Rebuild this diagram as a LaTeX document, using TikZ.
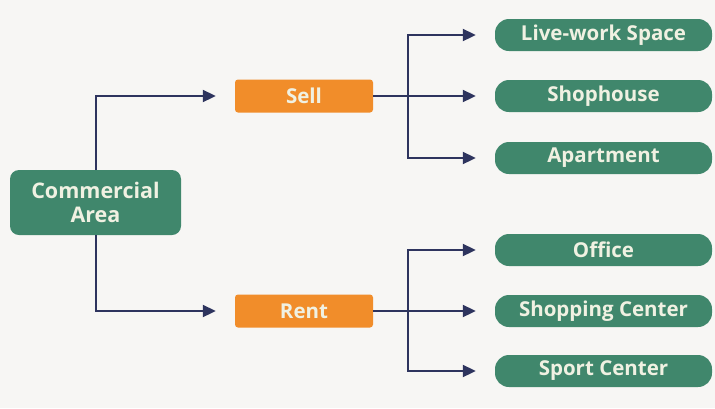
\documentclass[tikz,border=0pt]{standalone}
\usepackage{fontspec}
\setmainfont{Open Sans}
\usetikzlibrary{positioning, arrows.meta}

\definecolor{bgcol}{RGB}{247,246,244}
\definecolor{areagreen}{RGB}{64,135,108}
\definecolor{dealorange}{RGB}{241,141,42}
\definecolor{linkblue}{RGB}{46,52,94}
\definecolor{labelcream}{RGB}{240,241,226}

\begin{document}
\begin{tikzpicture}[x=1pt, y=-1pt,
      area/.style={rectangle, rounded corners=9pt, fill=areagreen, text=labelcream,
        font=\fontsize{21.5}{24}\selectfont\bfseries, align=center,
        minimum width=171pt, minimum height=65pt, inner sep=0pt},
      deal/.style={rectangle, rounded corners=3pt, fill=dealorange, text=labelcream,
        font=\fontsize{20.5}{22}\selectfont\bfseries,
        minimum width=138pt, minimum height=33pt, inner sep=0pt},
      kind/.style={rectangle, rounded corners=14pt, fill=areagreen, text=labelcream,
        font=\fontsize{20.5}{22}\selectfont\bfseries,
        minimum width=217pt, minimum height=32pt, inner sep=0pt},
      link/.style={draw=linkblue, line width=2pt},
      arr/.style={link, -{Triangle[length=13pt, width=12pt]}, shorten >=19pt}]
    \fill[bgcol] (0,0) rectangle (715,408);
    \useasboundingbox (0,0) rectangle (715,408);
    \node[area] (ca) at (95.5,202.5) {Commercial\\Area};
    \node[deal] (sell) at (304,96) {Sell};
    \node[deal] (rent) at (304,311) {Rent};
    \node[kind] (live) at (603.5,35) {Live-work Space};
    \node[kind] (shop) at (603.5,96) {Shophouse};
    \node[kind] (apt) at (603.5,158) {Apartment};
    \node[kind] (office) at (603.5,250) {Office};
    \node[kind] (mall) at (603.5,311) {Shopping Center};
    \node[kind] (sport) at (603.5,371) {Sport Center};
    \coordinate (sj) at (408,96); % sell junction
    \coordinate (rj) at (408,311); % rent junction
    \draw[arr] (ca.north) |- (sell.west);
    \draw[arr] (ca.south) |- (rent.west);
    \draw[link] (sell.east) -- (sj);
    \draw[arr] (sj) |- (live.west);
    \draw[arr] (sj) -- (shop.west);
    \draw[arr] (sj) |- (apt.west);
    \draw[link] (rent.east) -- (rj);
    \draw[arr] (rj) |- (office.west);
    \draw[arr] (rj) -- (mall.west);
    \draw[arr] (rj) |- (sport.west);
\end{tikzpicture}
\end{document}
